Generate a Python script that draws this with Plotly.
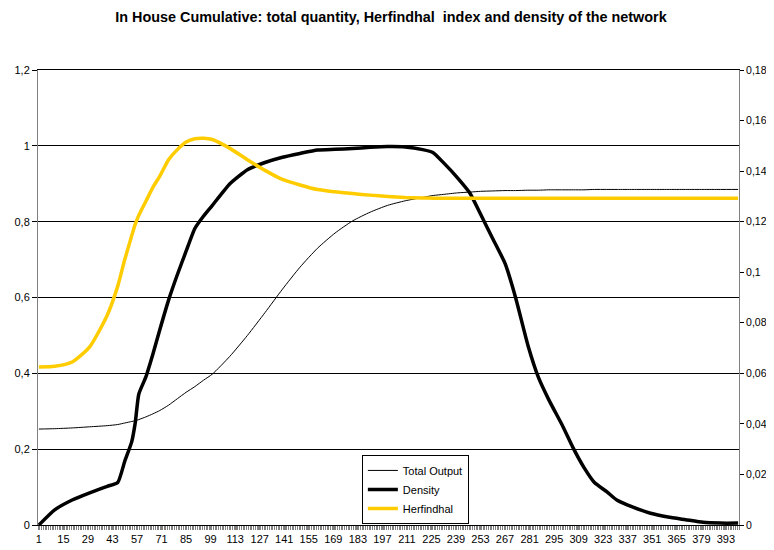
import plotly.graph_objects as go

# Sample categories (period index)
categories = [1, 10, 20, 30, 40, 46, 50, 54, 56, 58, 62, 66, 70, 75, 80, 85, 90, 95, 100,
              110, 120, 130, 140, 150, 160, 170, 180, 190, 200, 210, 220, 226, 232, 240,
              247, 253, 260, 267, 273, 280, 286, 292, 300, 306, 312, 318, 325, 331, 340,
              350, 360, 370, 380, 390, 400]

total_output = [0.253, 0.254, 0.256, 0.259, 0.262, 0.265, 0.269, 0.273, 0.275, 0.278, 0.285,
                0.293, 0.302, 0.316, 0.333, 0.350, 0.365, 0.382, 0.398,
                0.445, 0.500, 0.560, 0.622, 0.680, 0.730, 0.770, 0.802, 0.825, 0.843, 0.855,
                0.864, 0.869, 0.872, 0.876, 0.878, 0.880, 0.881, 0.882, 0.882, 0.883, 0.883,
                0.884, 0.884, 0.884, 0.884, 0.885, 0.885, 0.885, 0.885, 0.885, 0.885, 0.885,
                0.885, 0.885, 0.885]

density = [0.0, 0.040, 0.066, 0.085, 0.102, 0.112, 0.168, 0.220, 0.270, 0.345, 0.390, 0.450,
           0.515, 0.593, 0.660, 0.722, 0.782, 0.815, 0.843,
           0.900, 0.937, 0.956, 0.970, 0.980, 0.989, 0.991, 0.993, 0.996, 0.998, 0.997,
           0.990, 0.982, 0.955, 0.915, 0.875, 0.820, 0.755, 0.690, 0.600, 0.475, 0.390,
           0.330, 0.260, 0.202, 0.152, 0.112, 0.088, 0.065, 0.047, 0.031, 0.021, 0.014,
           0.007, 0.005, 0.005]

herfindhal = [0.0625, 0.0628, 0.0645, 0.0705, 0.0830, 0.0945, 0.1050, 0.1145, 0.1190, 0.1225,
              0.1280, 0.1335, 0.1380, 0.1445, 0.1485, 0.1515, 0.1528, 0.1530, 0.1525,
              0.1490, 0.1445, 0.1403, 0.1367, 0.1345, 0.1327, 0.1318, 0.1311, 0.1305, 0.1300,
              0.1296, 0.1294, 0.1293, 0.1293, 0.1293, 0.1293, 0.1293, 0.1293, 0.1293, 0.1293,
              0.1293, 0.1293, 0.1293, 0.1293, 0.1293, 0.1293, 0.1293, 0.1293, 0.1293, 0.1293,
              0.1293, 0.1293, 0.1293, 0.1293, 0.1293, 0.1293]

left_ticks = [0, 0.2, 0.4, 0.6, 0.8, 1.0, 1.2]
right_ticks = [0, 0.02, 0.04, 0.06, 0.08, 0.1, 0.12, 0.14, 0.16, 0.18]

FONT = "Liberation Sans, Arial, sans-serif"

fig = go.Figure()
fig.add_trace(go.Scatter(x=categories, y=total_output, name="Total Output", mode="lines",
                         line=dict(color="black", width=1, shape="spline", smoothing=0.6)))
fig.add_trace(go.Scatter(x=categories, y=density, name="Density", mode="lines",
                         line=dict(color="black", width=3.5, shape="spline", smoothing=0.5)))
fig.add_trace(go.Scatter(x=categories, y=herfindhal, name="Herfindhal", mode="lines", yaxis="y2",
                         line=dict(color="#FFCC00", width=3.5, shape="spline", smoothing=0.6)))

fig.update_layout(
    width=766, height=542,
    paper_bgcolor="white", plot_bgcolor="white",
    separators=", ",
    font=dict(family=FONT, size=11, color="black"),
    title=dict(text="<b>In House Cumulative: total quantity, Herfindhal  index and density of the network</b>",
               x=0.5, xanchor="center", y=0.983, yanchor="middle",
               font=dict(family=FONT, size=14.4, color="black")),
    margin=dict(l=30, r=35, t=62, b=25, autoexpand=False),
    showlegend=True,
    legend=dict(x=0.462, y=0.154, xanchor="left", yanchor="top",
                bordercolor="black", borderwidth=1, bgcolor="white",
                font=dict(family=FONT, size=11), tracegroupgap=0,
                itemwidth=30),
    xaxis=dict(range=[0.5, 400.5], tickmode="linear", tick0=1, dtick=14,
               ticks="outside", ticklen=4, tickcolor="gray", showgrid=False, zeroline=False,
               showline=True, linecolor="black", linewidth=1, mirror=True, automargin=False,
               tickfont=dict(size=11),
               minor=dict(ticks="outside", ticklen=4, tick0=0.5, dtick=1, tickcolor="gray",
                          showgrid=False)),
    yaxis=dict(range=[0, 1.2], tickmode="array", tickvals=left_ticks,
               ticks="outside", ticklen=5, tickcolor="black", automargin=False,
               showgrid=True, gridcolor="black", gridwidth=1, zeroline=False,
               showline=True, linecolor="gray", linewidth=1, tickfont=dict(size=11)),
    yaxis2=dict(range=[0, 0.18], tickmode="array", tickvals=right_ticks, overlaying="y", side="right",
                ticks="outside", ticklen=4, tickcolor="black", showgrid=False, zeroline=False,
                automargin=False,
                showline=True, linecolor="gray", linewidth=1, tickfont=dict(size=10.5)),
)

fig.write_html("out.html")
